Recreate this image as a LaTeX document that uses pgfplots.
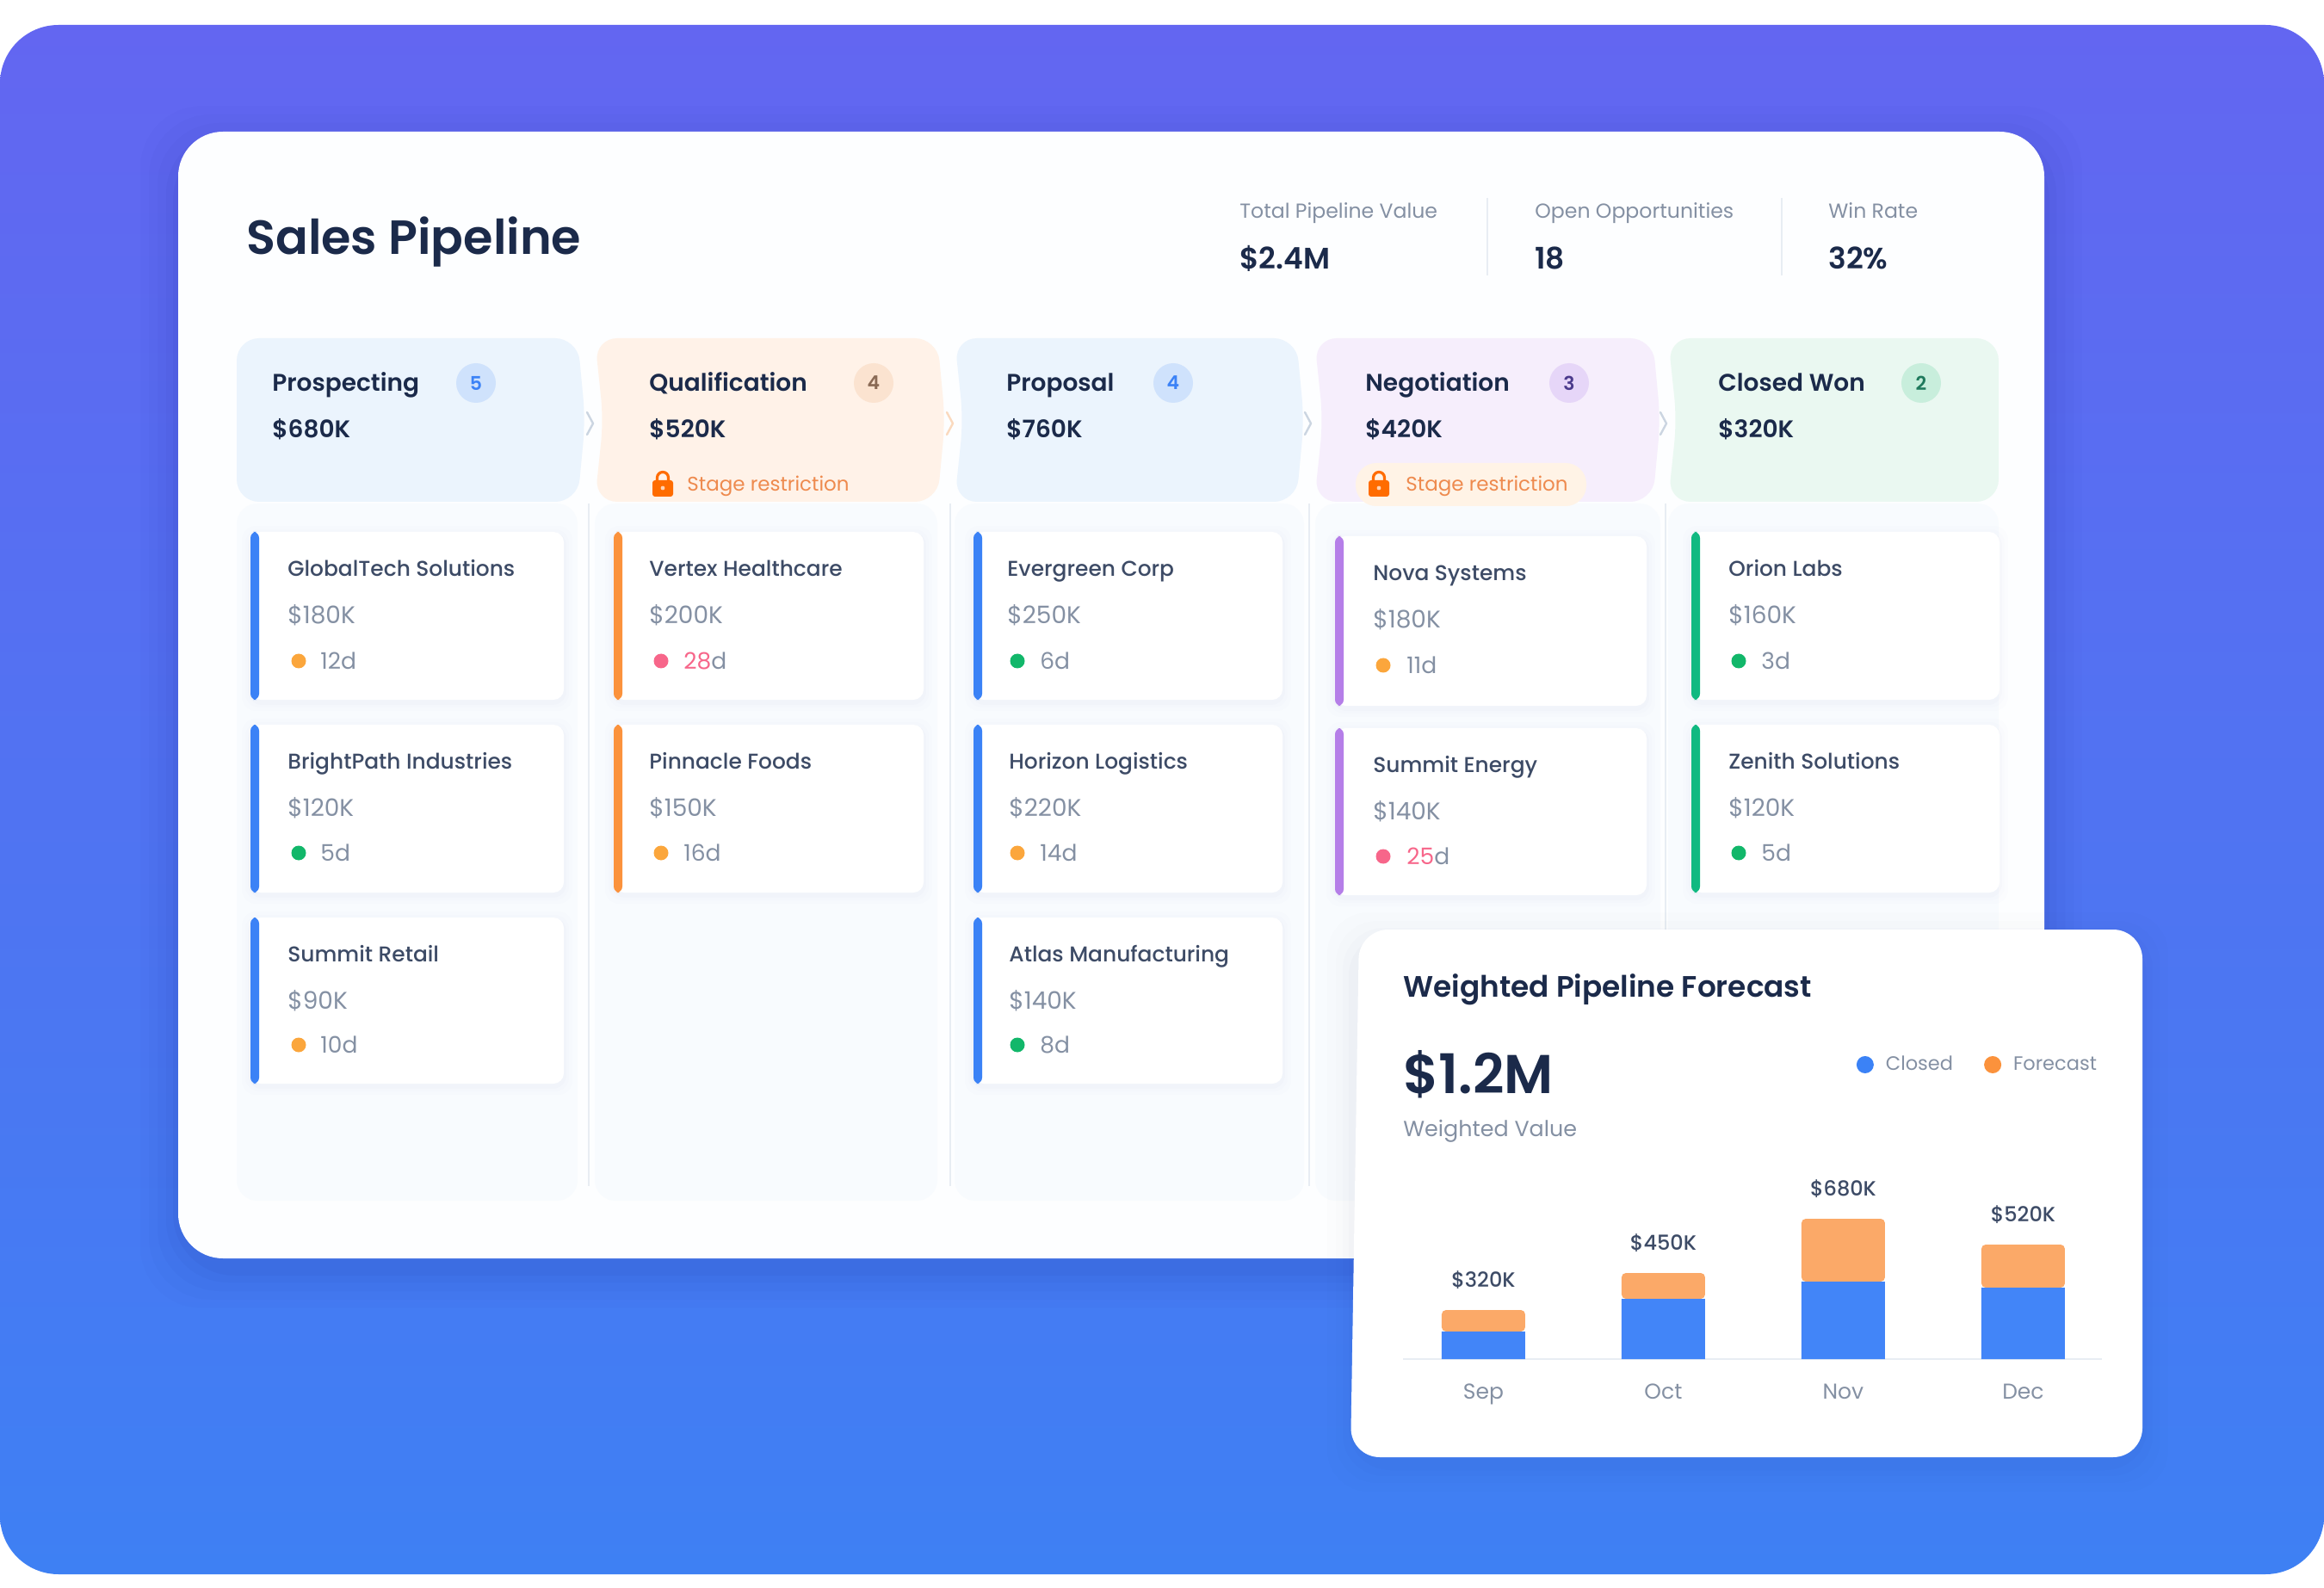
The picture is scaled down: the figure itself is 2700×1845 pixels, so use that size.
\documentclass[border=0pt]{standalone}
\usepackage{pgfplots}
\pgfplotsset{compat=1.18}
\usepackage{pgfplotstable}
\usepackage{fontspec}
\setmainfont{Poppins}
\newfontfamily\pmed{Poppins Medium}
\newfontfamily\psb{Poppins SemiBold}
\definecolor{navy}{HTML}{1B2A4A}
\definecolor{slate}{HTML}{3D4B66}
\definecolor{muted}{HTML}{8490A3}
\definecolor{cblue}{HTML}{3B82F6}
\definecolor{corange}{HTML}{FB923C}
\definecolor{cpurple}{HTML}{B57EE8}
\definecolor{cgreen}{HTML}{10B981}
\definecolor{dorange}{HTML}{FBA63C}
\definecolor{dgreen}{HTML}{12B76A}
\definecolor{dpink}{HTML}{F7668A}
\definecolor{stagetxt}{HTML}{EE8A4E}
\definecolor{HTMLA}{HTML}{6366F1}
\definecolor{HTMLB}{HTML}{3E80F3}
\definecolor{HTMLC}{HTML}{FDFEFF}
\definecolor{HTMLD}{HTML}{E8EDF3}
\definecolor{HTMLE}{HTML}{F8FBFE}
\definecolor{HTMLF}{HTML}{EBF4FD}
\definecolor{HTMLG}{HTML}{FFF2E8}
\definecolor{HTMLH}{HTML}{F6EEFC}
\definecolor{HTMLI}{HTML}{EAF8F1}
\definecolor{HTMLJ}{HTML}{CBD5E1}
\definecolor{HTMLK}{HTML}{FAD9BE}
\definecolor{HTMLL}{HTML}{CFE2FC}
\definecolor{HTMLM}{HTML}{FBE3D0}
\definecolor{HTMLN}{HTML}{8A6A55}
\definecolor{HTMLO}{HTML}{E6D6F8}
\definecolor{HTMLP}{HTML}{4B3A8C}
\definecolor{HTMLQ}{HTML}{FFF3E6}
\definecolor{HTMLR}{HTML}{C8EEDC}
\definecolor{HTMLS}{HTML}{1F7A5C}
\definecolor{HTMLT}{HTML}{E8EDF3}
\definecolor{HTMLU}{HTML}{4285F8}
\definecolor{HTMLV}{HTML}{FBA968}
\newcommand{\fsz}[1]{\pgfmathparse{#1*0.5}\fontsize{\pgfmathresult pt}{\pgfmathresult pt}\selectfont}
% x, y(centre of caps), size px, colour, font, text
\newcommand{\T}[6]{\node[anchor=base west,inner sep=0pt,text=#4] at (#1,{#2+0.35*#3}) {\fsz{#3}#5{}#6};}
\newcommand{\Card}[9]{%
  \foreach \e/\o in {10/0.006,6/0.008,3/0.012}{\fill[black!40!blue!60!gray,opacity=\o,rounded corners=8pt] (#1-\e,#3-\e+3) rectangle (#2+\e,#4+\e+3);}
  \fill[white,rounded corners=6pt] (#1,#3) rectangle (#2,#4);
  \fill[#5,rounded corners=3.5pt] (#1,#3) rectangle (#1+10,#4);
  \T{#6}{#3+43}{24.9}{slate}{\pmed}{#7}
  \T{#6}{#3+97}{28}{muted}{}{#8}
  #9}
\newcommand{\Days}[5]{% dot x, y, colour, text x, text
  \fill[#3] (#1,#2) circle (8.5);
  \T{#4}{#2}{26.5}{muted}{}{#5}}
\newcommand{\Lock}[2]{%
  \draw[orange!85!red,line width=1.6pt] (#1-6.5,#2-2) -- (#1-6.5,#2-7) arc[start angle=180,end angle=0,x radius=6.5,y radius=-6.5] -- (#1+6.5,#2-2);
  \fill[orange!85!red,rounded corners=1.5pt] (#1-12,#2-4) rectangle (#1+12,#2+15);
  \fill[white,opacity=.7] (#1,#2+5) circle (2.4);}
\newcommand{\Chev}[3]{\draw[#3,line width=1.2pt,line cap=round,line join=round] (#1-3,#2-13) -- (#1+4,#2) -- (#1-3,#2+13);}
\pgfplotstableread{
x closed forecast label
0 32 25 320
1 70 30 450
2 90 73 680
3 83 50 520
}\forecastdata
\begin{document}
\begin{tikzpicture}
\begin{scope}[x=0.5pt,y=-0.5pt]
\fill[white] (0,0) rectangle (2700,1845);
\shade[top color=HTMLA,bottom color=HTMLB,rounded corners=34pt] (0,29) rectangle (2700,1829);
% main card shadow
\foreach \e/\o in {44/0.012,34/0.015,24/0.02,14/0.025,6/0.03}{\fill[black!60!blue,opacity=\o,rounded corners=36pt] (207-\e,153-\e+14) rectangle (2375+\e,1462+\e+14);}
\fill[HTMLC,rounded corners=26pt] (207,153) rectangle (2375,1462);
% title and KPI
\T{286}{276}{55.7}{navy}{\psb}{Sales Pipeline}
\T{1440}{245}{23.6}{muted}{}{Total Pipeline Value}
\T{1440}{300}{34.5}{navy}{\psb}{\$2.4M}
\draw[HTMLD,line width=1pt] (1728,230) -- (1728,320);
\T{1783}{245}{23.6}{muted}{}{Open Opportunities}
\T{1783}{300}{34.5}{navy}{\psb}{18}
\draw[HTMLD,line width=1pt] (2070,230) -- (2070,320);
\T{2124}{245}{23.6}{muted}{}{Win Rate}
\T{2124}{300}{34.5}{navy}{\psb}{32\%}
% column panels
\foreach \a/\b in {275/671,691/1089,1109/1515,1528/1929,1938/2322}{\fill[HTMLE,rounded corners=12pt] (\a,585) rectangle (\b,1395);}
\foreach \a in {684,1104,1521,1935}{\draw[HTMLD,line width=1pt] (\a,585) -- (\a,1378);}
% stage headers
\fill[HTMLF,rounded corners=13pt] (275,393) -- (671,393) -- (680,488) -- (671,583) -- (275,583) -- cycle;
\fill[HTMLG,rounded corners=13pt] (691,393) -- (1089,393) -- (1098,488) -- (1089,583) -- (691,583) -- (701,488) -- cycle;
\fill[HTMLF,rounded corners=13pt] (1109,393) -- (1506,393) -- (1515,488) -- (1506,583) -- (1109,583) -- (1119,488) -- cycle;
\fill[HTMLH,rounded corners=13pt] (1527,393) -- (1920,393) -- (1929,488) -- (1920,583) -- (1527,583) -- (1537,488) -- cycle;
\fill[HTMLI,rounded corners=13pt] (1938,393) -- (2322,393) -- (2322,583) -- (1938,583) -- (1948,488) -- cycle;
\Chev{685}{492}{HTMLJ}
\Chev{1103}{492}{HTMLK}
\Chev{1519}{492}{HTMLJ}
\Chev{1932}{492}{HTMLJ}
\T{316}{445}{28}{navy}{\psb}{Prospecting}
\T{316}{499}{28}{navy}{\psb}{\$680K}
\fill[HTMLL] (553,445) circle (23);
\node[text=cblue] at (553,445) {\fsz{22}\psb 5};
\T{754}{445}{28}{navy}{\psb}{Qualification}
\T{754}{499}{28}{navy}{\psb}{\$520K}
\fill[HTMLM] (1015,445) circle (23);
\node[text=HTMLN] at (1015,445) {\fsz{22}\psb 4};
\Lock{770}{562}
\T{798}{562}{23}{stagetxt}{}{Stage restriction}
\T{1169}{445}{28}{navy}{\psb}{Proposal}
\T{1169}{499}{28}{navy}{\psb}{\$760K}
\fill[HTMLL] (1363,445) circle (23);
\node[text=cblue] at (1363,445) {\fsz{22}\psb 4};
\T{1586}{445}{28}{navy}{\psb}{Negotiation}
\T{1586}{499}{28}{navy}{\psb}{\$420K}
\fill[HTMLO] (1823,445) circle (23);
\node[text=HTMLP] at (1823,445) {\fsz{22}\psb 3};
\fill[HTMLQ,rounded corners=12pt] (1575,538) rectangle (1843,588);
\Lock{1602}{562}
\T{1633}{562}{23}{stagetxt}{}{Stage restriction}
\T{1996}{445}{28}{navy}{\psb}{Closed Won}
\T{1996}{499}{28}{navy}{\psb}{\$320K}
\fill[HTMLR] (2232,445) circle (23);
\node[text=HTMLS] at (2232,445) {\fsz{22}\psb 2};
% deal cards
\Card{291}{655}{618}{813}{cblue}{334}{GlobalTech Solutions}{\$180K}{\Days{347}{768}{dorange}{372}{12d}}
\Card{291}{655}{842}{1037}{cblue}{334}{BrightPath Industries}{\$120K}{\Days{347}{991}{dgreen}{372}{5d}}
\Card{291}{655}{1066}{1259}{cblue}{334}{Summit Retail}{\$90K}{\Days{347}{1214}{dorange}{372}{10d}}
\Card{713}{1073}{618}{813}{corange}{754}{Vertex Healthcare}{\$200K}{\Days{768}{768}{dpink}{794}{\textcolor{dpink}{28}d}}
\Card{713}{1073}{842}{1037}{corange}{754}{Pinnacle Foods}{\$150K}{\Days{768}{991}{dorange}{794}{16d}}
\Card{1131}{1490}{618}{813}{cblue}{1170}{Evergreen Corp}{\$250K}{\Days{1182}{768}{dgreen}{1208}{6d}}
\Card{1131}{1490}{842}{1037}{cblue}{1172}{Horizon Logistics}{\$220K}{\Days{1182}{991}{dorange}{1208}{14d}}
\Card{1131}{1490}{1066}{1259}{cblue}{1172}{Atlas Manufacturing}{\$140K}{\Days{1182}{1214}{dgreen}{1208}{8d}}
\Card{1551}{1913}{623}{820}{cpurple}{1595}{Nova Systems}{\$180K}{\Days{1607}{773}{dorange}{1634}{11d}}
\Card{1551}{1913}{846}{1040}{cpurple}{1595}{Summit Energy}{\$140K}{\Days{1607}{995}{dpink}{1634}{\textcolor{dpink}{25}d}}
\Card{1965}{2323}{618}{813}{cgreen}{2008}{Orion Labs}{\$160K}{\Days{2020}{768}{dgreen}{2046}{3d}}
\Card{1965}{2323}{842}{1037}{cgreen}{2008}{Zenith Solutions}{\$120K}{\Days{2020}{991}{dgreen}{2046}{5d}}
% forecast popup
\foreach \e/\o in {30/0.006,20/0.008,12/0.012,5/0.016}{\fill[black!60!blue,opacity=\o,rounded corners=24pt] (1572-\e,1080-\e+10) rectangle (2489+\e,1693+\e+10);}
\fill[white,rounded corners=17pt] (1579,1080) -- (2489,1080) -- (2489,1693) -- (1569,1693) -- cycle;
\T{1630}{1146}{34.3}{navy}{\psb}{Weighted Pipeline Forecast}
\T{1630}{1248}{63.5}{navy}{\psb}{\$1.2M}
\T{1630}{1312}{25.4}{muted}{}{Weighted Value}
\end{scope}
\begin{axis}[
  at={(815pt,-789.5pt)}, anchor=south west,
  scale only axis, width=406pt, height=100pt,
  xmin=-0.447, xmax=3.438, ymin=0, ymax=200,
  clip=false,
  ybar stacked, bar width=48.5pt,
  axis x line*=bottom, axis y line=none,
  axis line style={draw=HTMLT,line width=1pt},
  xtick=data, xticklabels={Sep,Oct,Nov,Dec},
  major tick length=0pt,
  xticklabel style={font=\fsz{25},text=muted,yshift=-10.8pt},
  legend columns=2,
  legend style={at={(0.998,1.71)},anchor=east,draw=none,fill=none,
    font=\fsz{22.5},text=muted,inner sep=0pt,
    /tikz/every even column/.append style={column sep=16pt}},
]
\addplot[fill=HTMLU,draw=none,legend image code/.code={\fill[cblue] (0pt,0pt) circle (5pt);}] table[x=x,y=closed]{\forecastdata};
\addlegendentry{\hspace*{5pt}Closed}
\addplot[fill=HTMLV,draw=none,rounded corners=2.5pt,legend image code/.code={\fill[corange] (0pt,0pt) circle (5pt);},
  point meta=explicit symbolic,
  visualization depends on={rawy \as \fc},
  nodes near coords={\$\pgfplotspointmeta K},
  every node near coord/.append style={font=\pmed\fsz{24},text=slate,anchor=center,yshift={(\fc*0.25+17.5)*1pt},inner sep=0pt}
] table[x=x,y=forecast,meta=label]{\forecastdata};
\addlegendentry{\hspace*{5pt}Forecast}
\end{axis}
\end{tikzpicture}
\end{document}
